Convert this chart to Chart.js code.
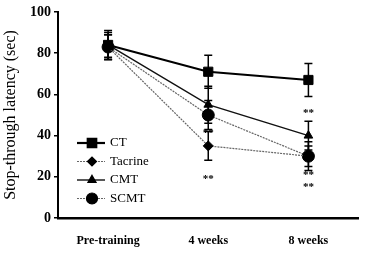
<!DOCTYPE html>
<html>
<head>
<meta charset="utf-8">
<script src="https://cdn.jsdelivr.net/npm/chart.js@4/dist/chart.umd.min.js"></script>
<style>
    html, body { margin: 0; padding: 0; background: #fff; }
    #wrap { width: 366px; height: 253px; }
</style>
</head>
<body>
<div id="wrap"><canvas id="chart" width="366" height="253"></canvas></div>
<script>
const categories = ["Pre-training", "4 weeks", "8 weeks"];
const yTicks = [0, 20, 40, 60, 80, 100];

const ctValues = [84, 71, 67];
const tacrineValues = [83, 35, 30];
const cmtValues = [84, 55, 40];
const scmtValues = [83, 50, 30];

const ctErr = [7, 8, 8];
const tacrineErr = [6, 7, 5];
const cmtErr = [6, 9, 7];
const scmtErr = [6, 7, 7];

// significance marks: category index, value height
const sigCategory = [1, 1, 2, 2, 2];
const sigValue = [42, 20, 52, 22, 16];

const FONT = "'Liberation Serif', 'DejaVu Serif', serif";

const series = [
    { label: "CT", data: ctValues, err: ctErr, color: "#000", width: 2.2, dash: [], point: "rect", radius: 6.5 },
    { label: "Tacrine", data: tacrineValues, err: tacrineErr, color: "#666", width: 1.2, dash: [2, 1], point: "rectRot", radius: 5 },
    { label: "CMT", data: cmtValues, err: cmtErr, color: "#111", width: 1.4, dash: [], point: "triangle", radius: 5 },
    { label: "SCMT", data: scmtValues, err: scmtErr, color: "#666", width: 1.2, dash: [2, 1], point: "circle", radius: 6 }
];

//error bars drawn under the markers
const errorBars = {
    id: "errorBars",
    beforeDatasetsDraw(chart) {
        const ctx = chart.ctx;
        const y = chart.scales.y;
        ctx.save();
        ctx.strokeStyle = "#000";
        ctx.lineWidth = 1.5;
        chart.data.datasets.forEach((ds, di) => {
            const meta = chart.getDatasetMeta(di);
            ds.data.forEach((v, i) => {
                const px = meta.data[i].x;
                const top = y.getPixelForValue(v + ds.err[i]);
                const bot = y.getPixelForValue(v - ds.err[i]);
                ctx.beginPath();
                ctx.moveTo(px, top);
                ctx.lineTo(px, bot);
                ctx.moveTo(px - 4, top);
                ctx.lineTo(px + 4, top);
                ctx.moveTo(px - 4, bot);
                ctx.lineTo(px + 4, bot);
                ctx.stroke();
            });
        });
        ctx.restore();
    }
};

const sigMarks = {
    id: "sigMarks",
    afterDatasetsDraw(chart) {
        const ctx = chart.ctx;
        const x = chart.scales.x;
        const y = chart.scales.y;
        ctx.save();
        ctx.fillStyle = "#000";
        ctx.font = "bold 11px " + FONT;
        ctx.textAlign = "center";
        ctx.textBaseline = "middle";
        for (let i = 0; i < sigCategory.length; i++) {
            ctx.fillText("**", x.getPixelForValue(sigCategory[i]), y.getPixelForValue(sigValue[i]) + 2);
        }
        ctx.restore();
    }
};

//legend with line samples inside the plot
const lineLegend = {
    id: "lineLegend",
    afterDraw(chart) {
        const ctx = chart.ctx;
        const left = chart.chartArea.left + 19;
        let top = chart.chartArea.top + 131;
        ctx.save();
        series.forEach(s => {
            ctx.strokeStyle = s.color;
            ctx.lineWidth = s.width;
            ctx.setLineDash(s.dash);
            ctx.beginPath();
            ctx.moveTo(left, top);
            ctx.lineTo(left + 28, top);
            ctx.stroke();
            ctx.setLineDash([]);
            ctx.fillStyle = "#000";
            ctx.strokeStyle = "#000";
            Chart.helpers.drawPoint(ctx, { pointStyle: s.point, radius: s.radius - 0.5, rotation: 0, borderWidth: 1 }, left + 15, top);
            ctx.font = "13px " + FONT;
            ctx.textBaseline = "middle";
            ctx.fillText(s.label, left + 33, top);
            top += 18.5;
        });
        ctx.restore();
    }
};

const ctx = document.getElementById("chart").getContext("2d");

new Chart(ctx, {
    type: "line",
    data: {
        labels: categories,
        datasets: series.map(s => ({
            label: s.label,
            data: s.data,
            err: s.err,
            borderColor: s.color,
            borderWidth: s.width,
            borderDash: s.dash,
            pointStyle: s.point,
            pointRadius: s.radius,
            pointBackgroundColor: "#000",
            pointBorderColor: "#000",
            pointBorderWidth: 1,
            fill: false,
            tension: 0
        }))
    },
    options: {
        responsive: false,
        animation: false,
        devicePixelRatio: 1,
        layout: { padding: { top: 12, right: 0, left: 0, bottom: 0 } },
        plugins: {
            legend: { display: false },
            tooltip: { enabled: false }
        },
        scales: {
            x: {
                offset: true,
                grid: { display: false },
                border: { display: true, color: "#000", width: 2.5 },
                ticks: { color: "#000", font: { family: FONT, size: 12, weight: "bold" }, padding: 8, maxRotation: 0 },
                afterFit: s => { s.height = 35; }
            },
            y: {
                min: 0,
                max: 100,
                afterBuildTicks: s => { s.ticks = yTicks.map(v => ({ value: v })); },
                grid: { drawOnChartArea: false, drawTicks: true, tickLength: 4, color: "#000", lineWidth: 1.5 },
                border: { display: true, color: "#000", width: 2 },
                ticks: { color: "#000", font: { family: FONT, size: 14, weight: "bold" }, padding: 3 },
                title: {
                    display: true,
                    text: "Stop-through latency (sec)",
                    color: "#000",
                    font: { family: FONT, size: 16 },
                    padding: { top: 1, bottom: 0 }
                },
                afterFit: s => { s.width = 58; }
            }
        }
    },
    plugins: [errorBars, sigMarks, lineLegend]
});
</script>
</body>
</html>
